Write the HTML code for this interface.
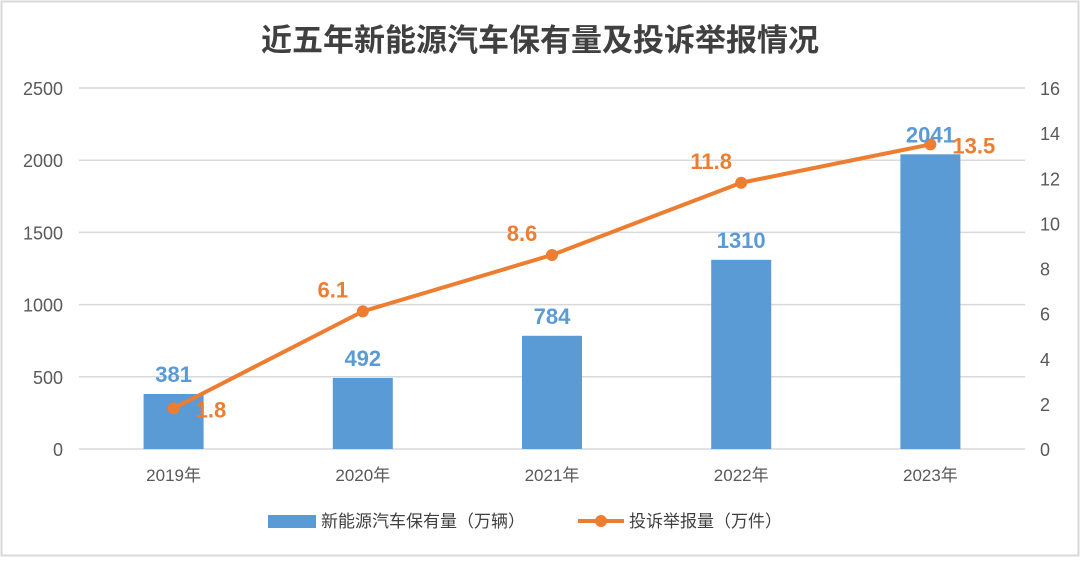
<!DOCTYPE html>
<html><head><meta charset="utf-8"><style>
html,body{margin:0;padding:0;background:#fff}
body{width:1080px;height:557px;overflow:hidden;font-family:"Liberation Sans","Noto Sans CJK SC",sans-serif}
</style></head><body>
<svg width="1080" height="557" viewBox="0 0 1080 557">
<rect x="1.5" y="1.5" width="1077" height="554" fill="#fff" stroke="#d9d9d9" stroke-width="2"/>
<text x="540" y="51" text-anchor="middle" font-size="31" font-weight="bold" fill="#404040" font-family="'Noto Sans CJK SC',sans-serif">近五年新能源汽车保有量及投诉举报情况</text>
<g id="grid"></g><g id="bars"></g><g id="line"></g><g id="labels"></g>
<g>
<rect x="268" y="515" width="48" height="13" fill="#5B9BD5"/>
<text x="321" y="527" font-size="17" fill="#404040">新能源汽车保有量（万辆）</text>
<line x1="578" y1="521" x2="624" y2="521" stroke="#ED7D31" stroke-width="4"/>
<circle cx="601" cy="521" r="6" fill="#ED7D31"/>
<text x="629" y="527" font-size="17" fill="#404040">投诉举报量（万件）</text>
</g>
</svg>
<script>
const categories=["2019年","2020年","2021年","2022年","2023年"];
const vehicles=[381,492,784,1310,2041];
const complaints=[1.8,6.1,8.6,11.8,13.5];
const leftTicks=[0,500,1000,1500,2000,2500];
const rightTicks=[0,2,4,6,8,10,12,14,16];
const NS="http://www.w3.org/2000/svg";
const y0=449,yTop=88,x0=79,x1=1025;
const yL=v=>y0-v/2500*(y0-yTop);
const yR=v=>y0-v/16*(y0-yTop);
const xC=i=>x0+(x1-x0)/categories.length*(i+0.5);
function mk(tag,attrs,parent,text){const e=document.createElementNS(NS,tag);for(const k in attrs)e.setAttribute(k,attrs[k]);if(text!==undefined)e.textContent=text;document.getElementById(parent).appendChild(e);return e;}
leftTicks.forEach(t=>{
 const l=mk('line',{x1:x0,x2:x1,y1:yL(t),y2:yL(t),stroke:'#d9d9d9','stroke-width':1.5},'grid');
 
 
 const tx=mk('text',{x:63,y:yL(t)+7,'text-anchor':'end','font-size':18,fill:'#595959'},'grid',String(t));
 
 
});
rightTicks.forEach(t=>{
 const tx=mk('text',{x:1040,y:yR(t)+7,'font-size':18,fill:'#595959'},'grid',String(t));
 
 
});
categories.forEach((c,i)=>{
 const tx=mk('text',{x:xC(i),y:481,'text-anchor':'middle','font-size':17,fill:'#595959'},'grid',c);
 
 
 const b=mk('rect',{x:xC(i)-30,y:yL(vehicles[i]),width:60,height:y0-yL(vehicles[i]),fill:'#5B9BD5'},'bars');
 
 
 const bl=mk('text',{x:xC(i),y:yL(vehicles[i])-12,'text-anchor':'middle','font-size':22,'font-weight':'bold',fill:'#5B9BD5'},'labels',String(vehicles[i]));
 
 
});
const pts=complaints.map((v,i)=>xC(i)+','+yR(v)).join(' ');
const pl=mk('polyline',{points:pts,fill:'none',stroke:'#ED7D31','stroke-width':4,'stroke-linejoin':'round'},'line');


complaints.forEach((v,i)=>{
 const c=mk('circle',{cx:xC(i),cy:yR(v),r:6,fill:'#ED7D31'},'line');
 
 
 const right=(i===0||i===complaints.length-1);
 const lx=right?xC(i)+22:xC(i)-30, ly=right?yR(v)+9:yR(v)-14;
 const t=mk('text',{x:lx,y:ly,'text-anchor':right?'start':'middle','font-size':22,'font-weight':'bold',fill:'#ED7D31'},'labels',String(v));
 
 
});
</script>
</body></html>
